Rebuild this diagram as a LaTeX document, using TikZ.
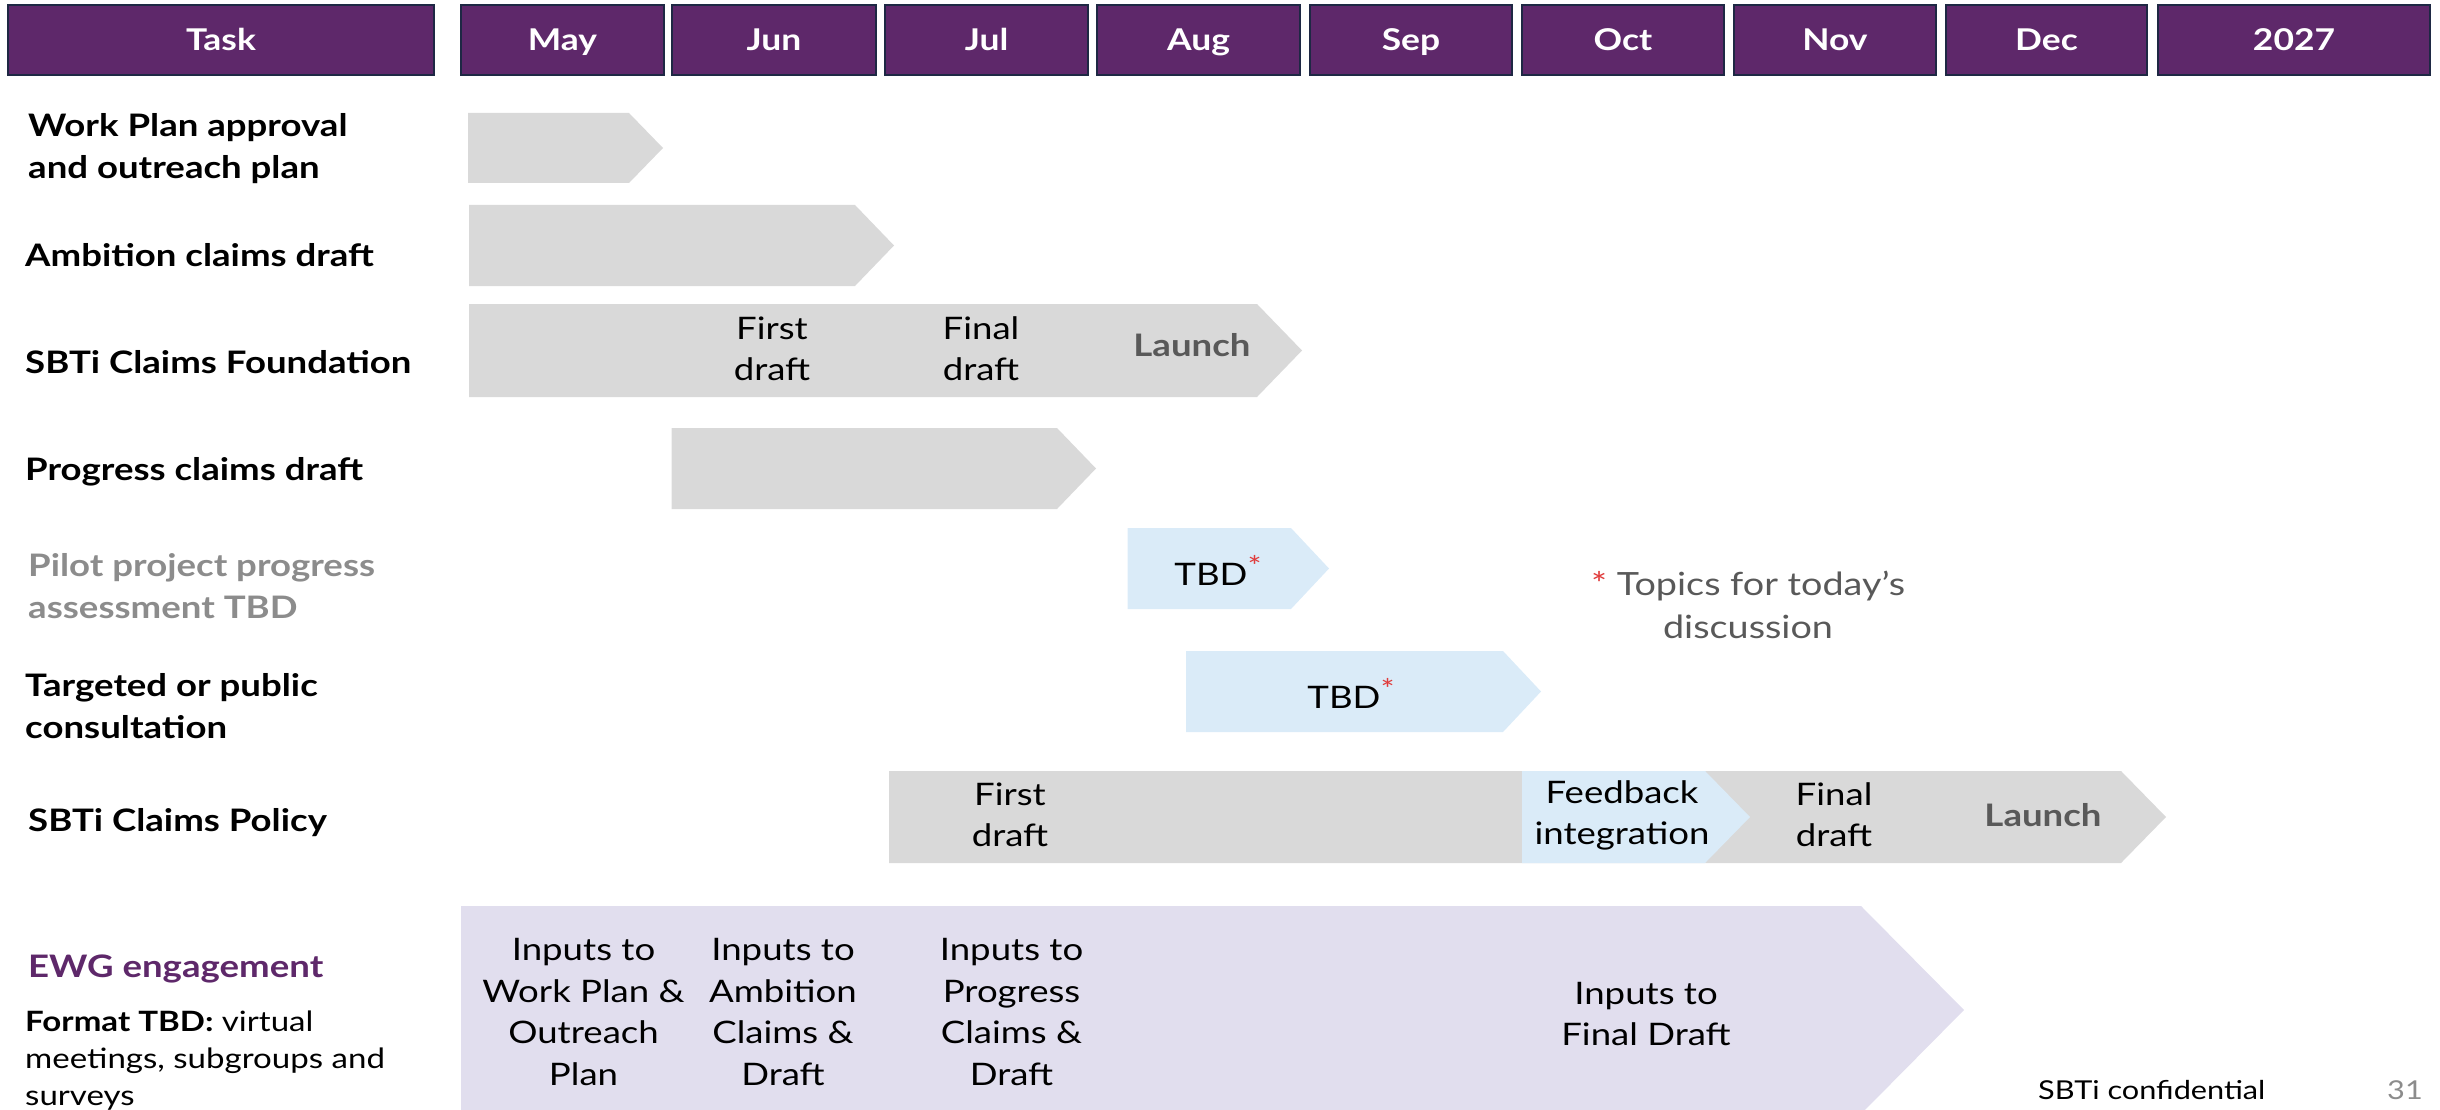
\documentclass[tikz,border=0pt]{standalone}
\usepackage{fontspec}
\setmainfont{Lato}[FakeStretch=1.18]
\definecolor{hdrpurple}{RGB}{94,40,106}
\definecolor{hdrline}{RGB}{30,40,68}
\definecolor{bargrey}{RGB}{217,217,217}
\definecolor{barblue}{RGB}{218,235,248}
\definecolor{barlav}{RGB}{225,222,238}
\definecolor{txtgrey}{RGB}{89,89,89}
\definecolor{lblgrey}{RGB}{140,140,140}
\definecolor{starred}{RGB}{224,60,60}
% chevron bar: style, left x, body end x, tip x, top y, bottom y
\newcommand{\chevbar}[6]{%
  \fill[#1] (#2,#5) -- (#3,#5) -- (#4,{(#5+#6)/2}) -- (#3,#6) -- (#2,#6) -- cycle;}
\newcommand{\redstar}{\raisebox{9pt}{\fontsize{28}{28}\selectfont\textcolor{starred}{*}}}
\begin{document}
\begin{tikzpicture}[x=1pt,y=-1pt,
  hdr/.style={draw=hdrline, line width=2pt, fill=hdrpurple, text=white,
    font=\bfseries\fontsize{30}{36}\selectfont, minimum height=70pt, inner sep=0pt,
    text height=22pt, text depth=0pt},
  tasklbl/.style={anchor=west, align=left, inner sep=0pt,
    font=\bfseries\fontsize{31}{42}\selectfont},
  bartxt/.style={align=center, inner sep=0pt, font=\fontsize{31}{41}\selectfont},
  launchtxt/.style={inner sep=0pt, text=txtgrey, font=\bfseries\fontsize{31}{41}\selectfont},
  ewgtxt/.style={align=center, inner sep=0pt, font=\fontsize{31}{41.5}\selectfont}]
\useasboundingbox (0,0) rectangle (2440,1110);
\clip (0,0) rectangle (2440,1110);

% header row
\node[hdr, minimum width=426pt] (hTask) at (221,39.7) {Task};
\node[hdr, minimum width=203pt] (hMay) at (562.5,39.7) {May};
\node[hdr, minimum width=204pt] (hJun) at (774,39.7) {Jun};
\node[hdr, minimum width=203pt] (hJul) at (986.5,39.7) {Jul};
\node[hdr, minimum width=203pt] (hAug) at (1198.5,39.7) {Aug};
\node[hdr, minimum width=202pt] (hSep) at (1411,39.7) {Sep};
\node[hdr, minimum width=202pt] (hOct) at (1623,39.7) {Oct};
\node[hdr, minimum width=202pt] (hNov) at (1835,39.7) {Nov};
\node[hdr, minimum width=201pt] (hDec) at (2046.5,39.7) {Dec};
\node[hdr, minimum width=272pt] (hYear) at (2294,39.7) {2027};

% task labels
\node[tasklbl] (tWork) at (28,149) {Work Plan approval\\and outreach plan};
\node[tasklbl] (tAmb) at (25,255) {Ambition claims draft};
\node[tasklbl] (tFound) at (25,362) {SBTi Claims Foundation};
\node[tasklbl] (tProg) at (25,472) {Progress claims draft};
\node[tasklbl, text=lblgrey] (tPilot) at (28,586) {Pilot project progress\\assessment TBD};
\node[tasklbl] (tCons) at (25,706) {Targeted or public\\consultation};
\node[tasklbl] (tPol) at (28,823) {SBTi Claims Policy};
\node[tasklbl, text=hdrpurple] (tEWG) at (28,969) {EWG engagement};
\node[anchor=west, align=left, inner sep=0pt, font=\fontsize{28}{37}\selectfont] (tFmt) at (25,1061)
  {\textbf{Format TBD:} virtual\\meetings, subgroups and\\surveys};

% bars
\chevbar{bargrey}{468}{629}{663}{113}{183}
\chevbar{bargrey}{469}{855}{894}{205}{286}
\chevbar{bargrey}{469}{1257}{1302}{304}{397}
\chevbar{bargrey}{671.5}{1057}{1096}{428}{509}
\chevbar{barblue}{1127.5}{1291}{1329}{528}{609}
\chevbar{barblue}{1186}{1503}{1541}{651}{732}
\chevbar{bargrey}{889}{2121}{2166}{771}{863}
\chevbar{barblue}{1522}{1705}{1750}{771}{863}
\chevbar{barlav}{461}{1861}{1964}{906}{1114}

% SBTi Claims Foundation milestones
\node[bartxt] (fFirst) at (772,349) {First\\draft};
\node[bartxt] (fFinal) at (981,349) {Final\\draft};
\node[launchtxt] (fLaunch) at (1192,345) {Launch};

% consultation placeholders
\node[bartxt] (pTBD) at (1218,570) {TBD\redstar};
\node[bartxt] (cTBD) at (1351,693) {TBD\redstar};

% SBTi Claims Policy milestones
\node[bartxt] (pFirst) at (1010,815) {First\\draft};
\node[bartxt] (pFeed) at (1622,815) {Feedback\\integration};
\node[bartxt] (pFinal) at (1834,815) {Final\\draft};
\node[launchtxt] (pLaunch) at (2043,815) {Launch};

% note
\node[align=center, inner sep=0pt, text=txtgrey, font=\fontsize{32}{43}\selectfont] (note) at (1748,605)
  {\textcolor{starred}{*} Topics for today's\\discussion};

% EWG inputs
\node[ewgtxt] (e1) at (583.5,1012) {Inputs to\\Work Plan \&\\Outreach\\Plan};
\node[ewgtxt] (e2) at (783,1012) {Inputs to\\Ambition\\Claims \&\\Draft};
\node[ewgtxt] (e3) at (1011.5,1012) {Inputs to\\Progress\\Claims \&\\Draft};
\node[ewgtxt] (e4) at (1646,1014) {Inputs to\\Final Draft};

% footer
\node[anchor=west, inner sep=0pt, font=\fontsize{26}{30}\selectfont] (conf) at (2038,1090) {SBTi confidential};
\node[inner sep=0pt, text=lblgrey, font=\fontsize{26}{30}\selectfont] (pg) at (2405,1090) {31};
\end{tikzpicture}
\end{document}
